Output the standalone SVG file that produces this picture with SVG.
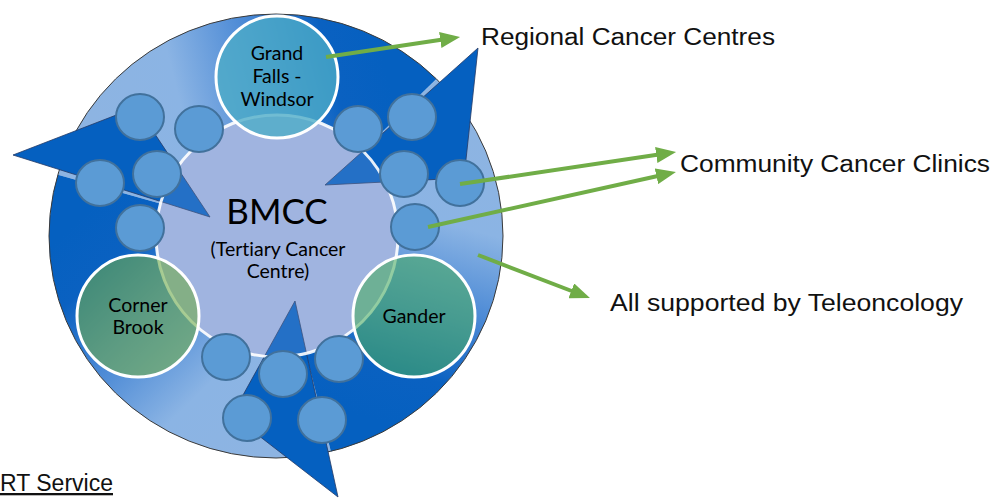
<svg xmlns="http://www.w3.org/2000/svg" width="996" height="500" viewBox="0 0 996 500">
<style>
.lbl{font-family:Lato,"Liberation Sans",sans-serif;font-size:19.5px;fill:#000;text-anchor:middle;font-variant-ligatures:none}
.side{font-family:"Liberation Sans",Arial,sans-serif;font-size:23px;fill:#111}
.clinic{fill:#5B9BD5;stroke:#41719C;stroke-width:2}
.head{fill:#0560C0;stroke:#243A66;stroke-width:0.8;stroke-linejoin:miter}
.conn{stroke:#70AD47;stroke-width:4;fill:none;marker-end:url(#ga)}
.big{stroke:#fff;stroke-width:3}
</style>
<defs>
<marker id="ga" markerUnits="userSpaceOnUse" markerWidth="20" markerHeight="16" refX="6" refY="8" orient="auto">
<path d="M0,0 L20,8 L0,16 Z" fill="#70AD47"/>
</marker>
<linearGradient id="g1" gradientUnits="userSpaceOnUse" x1="110" y1="188" x2="398" y2="114">
<stop offset="0" stop-color="#8DB4E2"/><stop offset="0.3" stop-color="#8BB4E4"/><stop offset="0.6" stop-color="#4686D4"/><stop offset="0.82" stop-color="#0A61C1"/><stop offset="1" stop-color="#0560C0"/>
</linearGradient>
<linearGradient id="g2" gradientUnits="userSpaceOnUse" x1="318" y1="404" x2="110" y2="188">
<stop offset="0" stop-color="#8DB4E2"/><stop offset="0.3" stop-color="#8BB4E4"/><stop offset="0.6" stop-color="#4686D4"/><stop offset="0.82" stop-color="#0A61C1"/><stop offset="1" stop-color="#0560C0"/>
</linearGradient>
<linearGradient id="g3" gradientUnits="userSpaceOnUse" x1="400" y1="116" x2="318" y2="404">
<stop offset="0" stop-color="#8DB4E2"/><stop offset="0.3" stop-color="#8BB4E4"/><stop offset="0.6" stop-color="#4686D4"/><stop offset="0.82" stop-color="#0A61C1"/><stop offset="1" stop-color="#0560C0"/>
</linearGradient>
</defs>

<g id="cycle-ring">
<path d="M276,236 L57.8,174.8 A227,222 0 0 1 436.5,79 Z" fill="url(#g1)"/>
<path d="M276,236 L330.9,451.4 A227,222 0 0 1 57.8,174.8 Z" fill="url(#g2)"/>
<path d="M276,236 L436.5,79 A227,222 0 0 1 330.9,451.4 Z" fill="url(#g3)"/>
<ellipse cx="276" cy="236" rx="227" ry="222" fill="none" stroke="#3A3A3A" stroke-width="1"/>
</g>

<g id="bmcc">
<circle cx="277" cy="236" r="121" fill="#A1B5E0"/>
<g id="cycle-heads">
<path class="head" d="M478,48 L464,178 L325,185 Z"/>
<path class="head" d="M13,155 L137,107 L210,217 Z"/>
<path class="head" d="M338,497 L232,415 L295,301 Z"/>
</g>
<circle cx="277" cy="236" r="119.5" fill="#A1B5E0" opacity="0.2"/>
<circle cx="277" cy="236" r="121" fill="none" stroke="#fff" stroke-width="3" opacity="0.9"/>
<text class="lbl" x="277" y="224" style="font-size:35px">BMCC</text>
<text class="lbl" x="278" y="256">(Tertiary Cancer</text>
<text class="lbl" x="278" y="278">Centre)</text>
</g>

<g id="clinics">
<ellipse id="clinic-1" class="clinic" cx="140" cy="117" rx="24" ry="23"/>
<ellipse id="clinic-2" class="clinic" cx="199" cy="129" rx="24" ry="23"/>
<ellipse id="clinic-3" class="clinic" cx="100" cy="183" rx="24" ry="23"/>
<ellipse id="clinic-4" class="clinic" cx="157" cy="174" rx="24" ry="23"/>
<ellipse id="clinic-5" class="clinic" cx="140" cy="228" rx="24" ry="23"/>
<ellipse id="clinic-6" class="clinic" cx="358" cy="129" rx="24" ry="23"/>
<ellipse id="clinic-7" class="clinic" cx="412" cy="117" rx="24" ry="23"/>
<ellipse id="clinic-8" class="clinic" cx="404" cy="174" rx="24" ry="23"/>
<ellipse id="clinic-9" class="clinic" cx="460" cy="183" rx="24" ry="23"/>
<ellipse id="clinic-10" class="clinic" cx="415" cy="227" rx="24" ry="23"/>
<ellipse id="clinic-11" class="clinic" cx="226" cy="357" rx="24" ry="23"/>
<ellipse id="clinic-12" class="clinic" cx="283" cy="374" rx="24" ry="23"/>
<ellipse id="clinic-13" class="clinic" cx="339" cy="359" rx="24" ry="23"/>
<ellipse id="clinic-14" class="clinic" cx="247" cy="418" rx="24" ry="23"/>
<ellipse id="clinic-15" class="clinic" cx="322" cy="420" rx="24" ry="23"/>
</g>

<g id="grand-falls-windsor">
<circle class="big" cx="277" cy="77" r="61" fill="#4BACC6" fill-opacity="0.78"/>
<text class="lbl" x="277" y="60">Grand</text>
<text class="lbl" x="277" y="83">Falls -</text>
<text class="lbl" x="277" y="106">Windsor</text>
</g>

<g id="corner-brook">
<circle class="big" cx="138" cy="316" r="61" fill="#70AD47" fill-opacity="0.58"/>
<text class="lbl" x="138" y="312">Corner</text>
<text class="lbl" x="138" y="334">Brook</text>
</g>

<g id="gander">
<circle class="big" cx="414" cy="316" r="61" fill="#48AC5E" fill-opacity="0.57"/>
<text class="lbl" x="414" y="323">Gander</text>
</g>

<g id="connectors">
<line class="conn" x1="326" y1="57" x2="446.2" y2="39.1"/>
<line class="conn" x1="460" y1="184" x2="662.2" y2="154.1"/>
<line class="conn" x1="428" y1="227" x2="662.3" y2="175"/>
<line class="conn" x1="478" y1="255" x2="576.9" y2="293"/>
</g>

<g id="labels">
<text id="regional" class="side" x="481" y="45" textLength="294" lengthAdjust="spacingAndGlyphs">Regional Cancer Centres</text>
<text id="community" class="side" x="680" y="172" textLength="310" lengthAdjust="spacingAndGlyphs">Community Cancer Clinics</text>
<text id="teleoncology" class="side" x="610" y="311" textLength="353" lengthAdjust="spacingAndGlyphs">All supported by Teleoncology</text>
<text id="rt-service" class="side" x="0" y="491" textLength="113" lengthAdjust="spacingAndGlyphs" text-decoration="underline">RT Service</text>
</g>
</svg>
